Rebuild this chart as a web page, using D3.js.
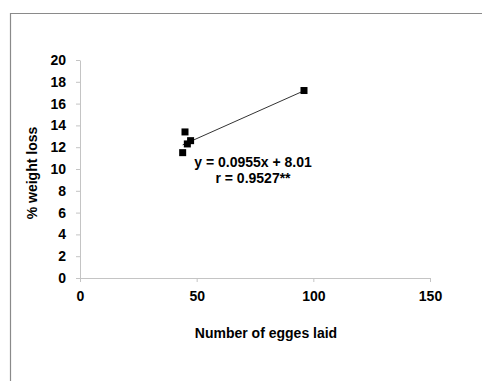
<!DOCTYPE html>
<html>
<head>
<meta charset="utf-8">
<script src="https://cdn.jsdelivr.net/npm/d3@7"></script>
<style>
  body { margin: 0; background: #fff; }
  svg { display: block; font-family: "Liberation Sans", Arial, sans-serif; }
</style>
</head>
<body>
<div id="chart"></div>
<script>
// ── Data ─────────────────────────────────────────────────────────────────────
const eggs = [44, 45, 46, 47.4, 96];
const weightLoss = [11.5, 13.4, 12.3, 12.6, 17.2];
const xTicks = [0, 50, 100, 150];
const yTicks = [0, 2, 4, 6, 8, 10, 12, 14, 16, 18, 20];
const slope = 0.0955;
const intercept = 8.01;
const equationLines = ["y = 0.0955x + 8.01", "r = 0.9527**"];

const width = 482, height = 381;
const fontSize = "14px";
const svg = d3.select("#chart").append("svg").attr("width", width).attr("height", height);

// outer frame (only top and left edges visible)
svg.append("path")
  .attr("d", `M10.5,${height} V13.5 H${width}`)
  .attr("fill", "none").attr("stroke", "#8a8a8a").attr("stroke-width", 1.2);

const x = d3.scaleLinear().domain([0, 150]).range([80, 430]);
const y = d3.scaleLinear().domain([0, 20]).range([278, 60]);

// ── Axes ────────────────────────────────────────────────────────────────────
const xAxis = svg.append("g")
  .attr("transform", `translate(0,${y(0)})`)
  .call(d3.axisBottom(x).tickValues(xTicks).tickSize(4).tickSizeOuter(0).tickPadding(9));
const yAxis = svg.append("g")
  .attr("transform", `translate(${x(0)},0)`)
  .call(d3.axisLeft(y).tickValues(yTicks).tickSize(4).tickSizeOuter(0).tickPadding(10));

for (const ax of [xAxis, yAxis]) {
  ax.select(".domain").attr("stroke", "#c4c4c4");
  ax.selectAll(".tick line").attr("stroke", "#c4c4c4");
  ax.selectAll(".tick text")
    .attr("fill", "#000").attr("font-size", fontSize).attr("font-weight", "bold")
    .attr("font-family", "Liberation Sans, Arial, sans-serif");
}

// axis titles
svg.append("text")
  .attr("x", 266).attr("y", 338)
  .attr("text-anchor", "middle").attr("font-size", fontSize).attr("font-weight", "bold")
  .text("Number of egges laid");

svg.append("text")
  .attr("transform", `translate(37,${(y(0) + y(20)) / 2 + 4}) rotate(-90)`)
  .attr("text-anchor", "middle").attr("font-size", fontSize).attr("font-weight", "bold")
  .text("% weight loss");

// ── Trend line ──────────────────────────────────────────────────────────────
const [xMin, xMax] = d3.extent(eggs);
svg.append("line")
  .attr("x1", x(xMin)).attr("y1", y(slope * xMin + intercept))
  .attr("x2", x(xMax)).attr("y2", y(slope * xMax + intercept))
  .attr("stroke", "#333").attr("stroke-width", 1);

// ── Points ──────────────────────────────────────────────────────────────────
const s = 7;
svg.append("g").selectAll("rect")
  .data(eggs.map((e, i) => [e, weightLoss[i]]))
  .join("rect")
  .attr("x", (d) => x(d[0]) - s / 2)
  .attr("y", (d) => y(d[1]) - s / 2)
  .attr("width", s).attr("height", s)
  .attr("fill", "#000");

// equation label
svg.append("g").selectAll("text")
  .data(equationLines)
  .join("text")
  .attr("x", 253).attr("y", (d, i) => 167 + i * 15.5)
  .attr("text-anchor", "middle").attr("font-size", fontSize).attr("font-weight", "bold")
  .text((d) => d);
</script>
</body>
</html>
